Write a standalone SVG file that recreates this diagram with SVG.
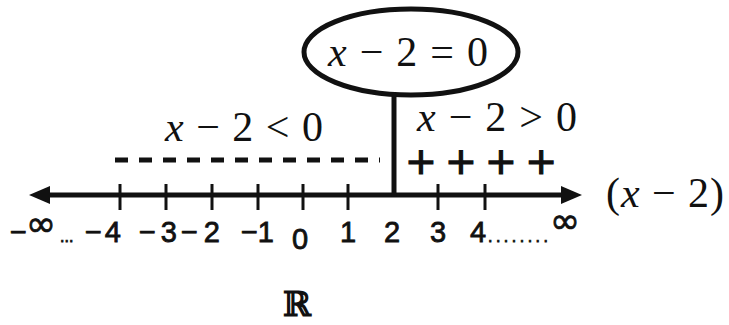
<svg xmlns="http://www.w3.org/2000/svg" width="729" height="325" viewBox="0 0 729 325">
<style>
.ln{stroke:#111;fill:none;stroke-linecap:butt}
.tk{stroke:#111;stroke-width:3}
.m{font-family:"Liberation Serif",serif;font-size:42px;fill:#111}
.n{font-family:"Liberation Sans",sans-serif;font-size:29px;fill:#111;stroke:#111;stroke-width:0.8}
.i{font-style:italic}
</style>
<rect width="729" height="325" fill="#fff"/>
<g id="connectors">
<line class="ln" x1="44" y1="195" x2="566" y2="195" stroke-width="5"/>
<polygon points="29,195 50,186 50,204" fill="#111"/>
<polygon points="582,195 561,186 561,204" fill="#111"/>
<line class="ln" x1="394" y1="94" x2="394" y2="197" stroke-width="5"/>
<g class="tk">
<line x1="120" y1="184" x2="120" y2="210"/>
<line x1="166" y1="184" x2="166" y2="210"/>
<line x1="212" y1="184" x2="212" y2="210"/>
<line x1="258" y1="184" x2="258" y2="210"/>
<line x1="303" y1="184" x2="303" y2="210"/>
<line x1="348" y1="184" x2="348" y2="210"/>
<line x1="438" y1="184" x2="438" y2="210"/>
<line x1="485" y1="184" x2="485" y2="210"/>
</g>
</g>
<g id="node-root">
<ellipse cx="411" cy="52" rx="107" ry="43" fill="none" stroke="#111" stroke-width="5"/>
<text class="m" x="328" y="66" textLength="160" lengthAdjust="spacing"><tspan class="i">x</tspan> − 2 = 0</text>
</g>
<g id="node-neg">
<text class="m" x="165" y="141" textLength="158" lengthAdjust="spacing"><tspan class="i">x</tspan> − 2 &lt; 0</text>
<line class="ln" x1="115" y1="160" x2="380" y2="160" stroke-width="5" stroke-dasharray="13,11"/>
</g>
<g id="node-pos">
<text class="m" x="417" y="131" textLength="160" lengthAdjust="spacing"><tspan class="i">x</tspan> − 2 &gt; 0</text>
<text x="405" y="174" font-family="DejaVu Sans,sans-serif" font-size="38" fill="#111" stroke="#111" stroke-width="1.2" textLength="152" lengthAdjust="spacing">+ + + +</text>
</g>
<g id="node-label">
<text class="m" x="606" y="207" textLength="118" lengthAdjust="spacing">(<tspan class="i">x</tspan> − 2)</text>
</g>
<g id="numbers" class="n">
<text x="10" y="242">−</text>
<text x="26" y="236" font-size="36" font-family="DejaVu Sans,sans-serif">∞</text>
<text x="60" y="242" font-size="16">...</text>
<text x="85" y="242" textLength="36" lengthAdjust="spacing">−4</text>
<text x="139" y="242" textLength="38" lengthAdjust="spacing">−3</text>
<text x="181" y="242" textLength="39" lengthAdjust="spacing">−2</text>
<text x="241" y="242" textLength="33" lengthAdjust="spacing">−1</text>
<text x="292" y="249">0</text>
<text x="340" y="242">1</text>
<text x="384" y="242">2</text>
<text x="430" y="242">3</text>
<text x="470" y="242">4</text>
<text x="488" y="242" font-size="16" textLength="60" lengthAdjust="spacing">........</text>
<text x="550" y="233" font-size="36" font-family="DejaVu Sans,sans-serif">∞</text>
</g>
<g id="node-R">
<text x="283" y="316" font-family="DejaVu Serif,serif" font-size="34" font-weight="bold" fill="#111">ℝ</text>
</g>
</svg>
